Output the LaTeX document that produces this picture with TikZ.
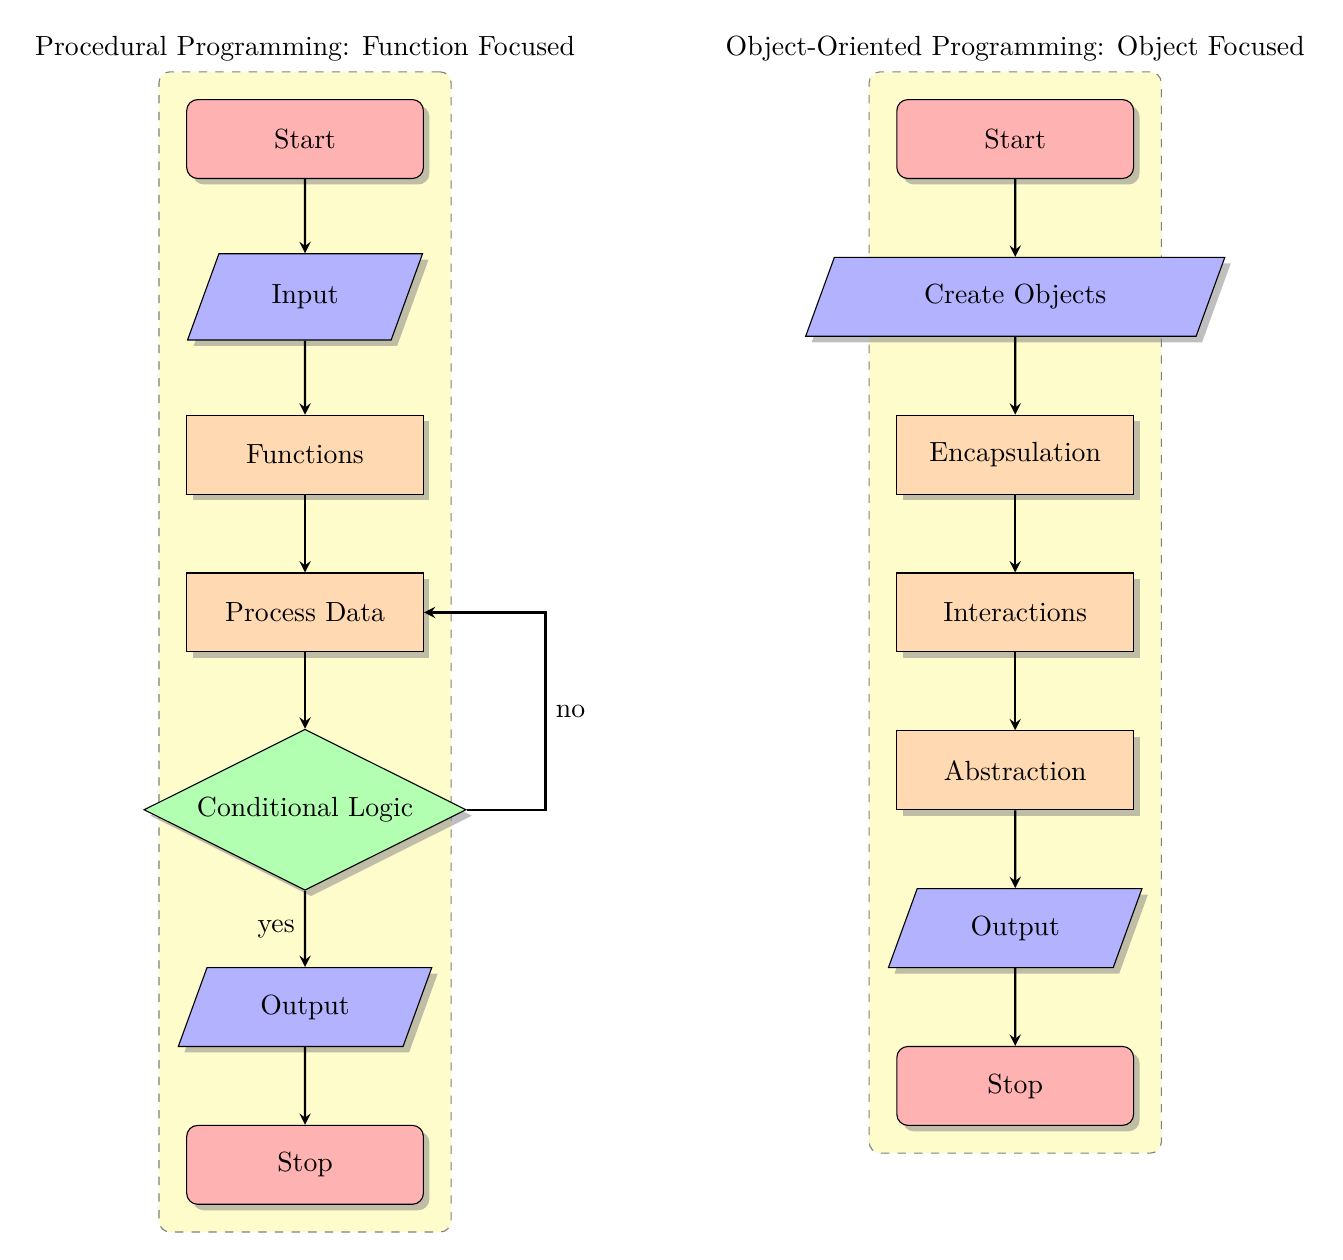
\documentclass[tikz,border=0pt]{standalone}
\usetikzlibrary{shapes.geometric,shadows,fit,arrows}
\begin{document}
\begin{tikzpicture}[
  base/.style={draw=black, text centered, drop shadow},
  startstop/.style={base, rectangle, rounded corners, minimum width=3cm, minimum height=1cm, fill=red!30},
  io/.style={base, trapezium, trapezium left angle=70, trapezium right angle=110, minimum width=3cm, minimum height=1cm, fill=blue!30},
  process/.style={base, rectangle, minimum width=3cm, minimum height=1cm, fill=orange!30},
  decision/.style={base, diamond, aspect=2, fill=green!30},
  arrow/.style={thick,->,>=stealth},
  bgbox/.style={draw=gray, dashed, rounded corners, fill=yellow!20, inner sep=10pt}
]
\useasboundingbox (-3.866,1.762) rectangle (13.154,-14.198);
\node[bgbox, fit={(-1.5,0.5) (1.5,-13.5)}] (bgl) {};
\node[bgbox, fit={(7.5,0.5) (10.5,-12.5)}] (bgr) {};
\node[above=0pt] (titl) at (bgl.north) {Procedural Programming: Function Focused};
\node[above=0pt] (titr) at (bgr.north) {Object-Oriented Programming: Object Focused};

\node[startstop] (start1) at (0,0) {Start};
\node[io] (in1) at (0,-2) {Input};
\node[process] (fun1) at (0,-4) {Functions};
\node[process] (pro1) at (0,-6) {Process Data};
\node[decision] (dec1) at (0,-8.5) {Conditional Logic};
\node[io] (out1) at (0,-11) {Output};
\node[startstop] (stop1) at (0,-13) {Stop};

\draw[arrow] (start1) -- (in1);
\draw[arrow] (in1) -- (fun1);
\draw[arrow] (fun1) -- (pro1);
\draw[arrow] (pro1) -- (dec1);
\draw[arrow] (dec1) -- node[left] {yes} (out1);
\draw[arrow] (dec1.east) -- ++(1cm,0) |- node[near start, right] {no} (pro1.east);
\draw[arrow] (out1) -- (stop1);

\node[startstop] (start2) at (9,0) {Start};
\node[io] (in2) at (9,-2) {Create Objects};
\node[process] (enc2) at (9,-4) {Encapsulation};
\node[process] (int2) at (9,-6) {Interactions};
\node[process] (abs2) at (9,-8) {Abstraction};
\node[io] (out2) at (9,-10) {Output};
\node[startstop] (stop2) at (9,-12) {Stop};

\draw[arrow] (start2) -- (in2);
\draw[arrow] (in2) -- (enc2);
\draw[arrow] (enc2) -- (int2);
\draw[arrow] (int2) -- (abs2);
\draw[arrow] (abs2) -- (out2);
\draw[arrow] (out2) -- (stop2);
\end{tikzpicture}
\end{document}
